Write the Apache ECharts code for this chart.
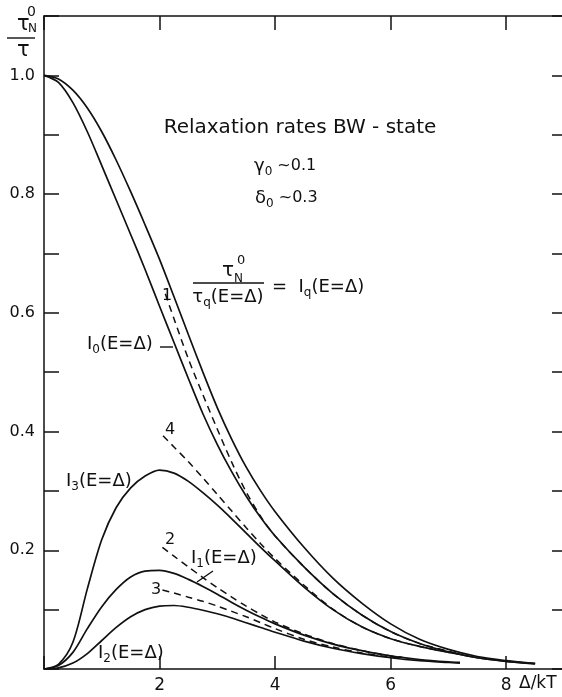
<!DOCTYPE html>
<html>
<head>
<meta charset="utf-8">
<script src="https://cdn.jsdelivr.net/npm/echarts@6/dist/echarts.min.js"></script>
<style>
  html, body { margin: 0; padding: 0; background: #fff; }
  #chart { width: 562px; height: 697px; }
</style>
</head>
<body>
<div id="chart"></div>
<script>
// curve values (x = Δ/kT, y = τN0/τ)
const upperX = [0, 0.25, 0.5, 0.75, 1, 1.25, 1.5, 1.75, 2, 2.25, 2.5, 2.75, 3, 3.25, 3.5, 3.75, 4, 4.5, 5, 5.5, 6, 6.5, 7, 7.5, 8, 8.5];
const outerY = [1.0, 0.994, 0.975, 0.945, 0.905, 0.857, 0.804, 0.748, 0.690, 0.627, 0.563, 0.500, 0.440, 0.387, 0.340, 0.300, 0.265, 0.205, 0.153, 0.111, 0.076, 0.050, 0.033, 0.021, 0.014, 0.009];
const i0Y    = [1.0, 0.988, 0.954, 0.905, 0.848, 0.790, 0.732, 0.673, 0.611, 0.550, 0.489, 0.430, 0.378, 0.332, 0.291, 0.255, 0.224, 0.172, 0.127, 0.091, 0.063, 0.043, 0.029, 0.019, 0.013, 0.009];
const i3Y    = [0, 0.008, 0.045, 0.135, 0.218, 0.272, 0.305, 0.325, 0.335, 0.330, 0.316, 0.297, 0.276, 0.253, 0.229, 0.205, 0.182, 0.138, 0.100, 0.071, 0.051, 0.038, 0.028, 0.019, 0.013, 0.009];

const d1X = [2.1, 2.25, 2.5, 2.75, 3, 3.25, 3.5, 3.75, 4, 4.5, 5, 5.5, 6, 6.5, 7.2];
const d1Y = [0.632, 0.590, 0.522, 0.462, 0.404, 0.348, 0.298, 0.257, 0.224, 0.172, 0.127, 0.091, 0.063, 0.043, 0.025];

const d4X = [2.06, 2.25, 2.5, 2.75, 3, 3.25, 3.5, 3.75, 4, 4.5, 5, 5.5, 6, 6.5, 7.2];
const d4Y = [0.393, 0.374, 0.349, 0.322, 0.294, 0.266, 0.238, 0.211, 0.186, 0.141, 0.101, 0.071, 0.051, 0.038, 0.025];

const lowerX = [0, 0.25, 0.5, 0.75, 1, 1.25, 1.5, 1.75, 2, 2.25, 2.5, 2.75, 3, 3.25, 3.5, 3.75, 4, 4.5, 5, 5.5, 6, 6.5, 7, 7.2];
const i1Y    = [0, 0.006, 0.028, 0.068, 0.105, 0.134, 0.155, 0.165, 0.166, 0.161, 0.151, 0.139, 0.126, 0.112, 0.099, 0.087, 0.076, 0.057, 0.042, 0.031, 0.022, 0.016, 0.012, 0.011];
const i2Y    = [0, 0.002, 0.010, 0.026, 0.048, 0.070, 0.088, 0.100, 0.106, 0.107, 0.104, 0.099, 0.093, 0.086, 0.078, 0.070, 0.062, 0.047, 0.035, 0.026, 0.019, 0.014, 0.011, 0.010];

const d2X = [2.05, 2.25, 2.5, 2.75, 3, 3.25, 3.5, 3.75, 4, 4.5, 5, 5.5, 6, 6.2];
const d2Y = [0.205, 0.190, 0.172, 0.154, 0.137, 0.121, 0.106, 0.092, 0.079, 0.059, 0.043, 0.031, 0.022, 0.020];

const d3X = [2.05, 2.25, 2.5, 2.75, 3, 3.25, 3.5, 3.75, 4, 4.5, 5, 5.5, 6, 6.2];
const d3Y = [0.133, 0.128, 0.121, 0.114, 0.106, 0.097, 0.088, 0.078, 0.068, 0.050, 0.037, 0.027, 0.020, 0.018];

const xTicks = [2, 4, 6, 8];
const yTickLabels = ['0.2', '0.4', '0.6', '0.8', '1.0'];

const INK = '#111';
const FONT = 'DejaVu Sans';

function pairs(xs, ys) {
  return xs.map((x, i) => [x, ys[i]]);
}

function curve(name, xs, ys, dashed) {
  return {
    name: name,
    type: 'line',
    data: pairs(xs, ys),
    showSymbol: false,
    smooth: 0.3,
    silent: true,
    lineStyle: {
      color: INK,
      width: dashed ? 1.5 : 1.7,
      type: dashed ? [7, 5] : 'solid'
    }
  };
}

const rich = {
  m: { fontSize: 18, fontFamily: FONT, color: INK, lineHeight: 24 },
  n: { fontSize: 16, fontFamily: FONT, color: INK, lineHeight: 24 },
  s: { fontSize: 12, fontFamily: FONT, color: INK, lineHeight: 12, verticalAlign: 'bottom' }
};

function txt(x, y, text, size, align) {
  return {
    type: 'text', x: x, y: y, silent: true,
    style: {
      text: text, fill: INK, fontSize: size || 18, fontFamily: FONT,
      align: align || 'left', verticalAlign: 'middle', rich: rich
    }
  };
}

function seg(x1, y1, x2, y2) {
  return {
    type: 'line', silent: true,
    shape: { x1: x1, y1: y1, x2: x2, y2: y2 },
    style: { stroke: INK, lineWidth: 1.4 }
  };
}

const chart = echarts.init(document.getElementById('chart'), null, { renderer: 'canvas' });

const axisLine = { show: true, onZero: false, lineStyle: { color: INK, width: 1.5 } };

chart.setOption({
  animation: false,
  backgroundColor: '#fff',
  // plot box runs a little past the right edge of the page, as in the scan
  grid: {
    left: 44, top: 16, width: 520, height: 653,
    containLabel: false, outerBoundsMode: 'none'
  },
  xAxis: [
    {
      type: 'value', position: 'bottom', min: 0, max: 9, interval: 2,
      axisLine: axisLine,
      axisTick: { inside: true, length: 13, lineStyle: { color: INK, width: 1.5 } },
      axisLabel: {
        color: INK, fontSize: 17, fontFamily: FONT, margin: 8,
        formatter: v => (xTicks.indexOf(v) >= 0 ? String(v) : '')
      },
      splitLine: { show: false }
    },
    {
      type: 'value', position: 'top', min: 0, max: 9, interval: 2,
      axisLine: axisLine,
      axisTick: { inside: true, length: 14, lineStyle: { color: INK, width: 1.5 } },
      axisLabel: { show: false },
      splitLine: { show: false }
    }
  ],
  yAxis: [
    {
      type: 'value', position: 'left', min: 0, max: 1.1, interval: 0.1,
      axisLine: axisLine,
      axisTick: { inside: true, length: 15, lineStyle: { color: INK, width: 1.5 } },
      axisLabel: {
        color: INK, fontSize: 16, fontFamily: FONT, margin: 9,
        formatter: v => {
          const s = v.toFixed(1);
          return yTickLabels.indexOf(s) >= 0 ? s : '';
        }
      },
      splitLine: { show: false }
    },
    {
      type: 'value', position: 'right', min: 0, max: 1.1, interval: 0.1,
      axisLine: axisLine,
      axisTick: { inside: true, length: 12, lineStyle: { color: INK, width: 1.5 } },
      axisLabel: { show: false },
      splitLine: { show: false }
    }
  ],
  series: [
    curve('outer', upperX, outerY, false),
    curve('I0', upperX, i0Y, false),
    curve('1', d1X, d1Y, true),
    curve('I3', upperX, i3Y, false),
    curve('4', d4X, d4Y, true),
    curve('I1', lowerX, i1Y, false),
    curve('2', d2X, d2Y, true),
    curve('I2', lowerX, i2Y, false),
    curve('3', d3X, d3Y, true)
  ],
  graphic: [
    // y axis name  τN0 / τ
    txt(17, 25, 'τ', 21),
    txt(28, 29, 'N', 12),
    txt(27, 12, '0', 14),
    seg(7, 38, 35, 38),
    txt(17, 51, 'τ', 21),
    // x axis name
    txt(519, 684, 'Δ/kT', 17),
    // title block
    txt(300, 128, 'Relaxation rates BW - state', 20, 'center'),
    txt(254, 166, '{m|γ}{s|0}{n| ~0.1}', 18),
    txt(255, 198, '{m|δ}{s|0}{n| ~0.3}', 18),
    // formula
    txt(222, 271, 'τ', 20),
    txt(234, 279, 'N', 12),
    txt(237, 261, '0', 13),
    seg(193, 283, 264, 283),
    txt(228, 297, '{m|τ}{s|q}{m|(E=Δ)}', 18, 'center'),
    txt(272, 287, '{m|=  I}{s|q}{m|(E=Δ)}', 18),
    // curve labels
    txt(87, 344, '{m|I}{s|0}{m|(E=Δ)}', 18),
    seg(160, 347, 173, 347),
    txt(66, 481, '{m|I}{s|3}{m|(E=Δ)}', 18),
    txt(191, 558, '{m|I}{s|1}{m|(E=Δ)}', 18),
    seg(197, 582, 213, 571),
    txt(98, 653, '{m|I}{s|2}{m|(E=Δ)}', 18),
    txt(162, 296, '1', 16),
    txt(165, 430, '4', 16),
    txt(165, 540, '2', 16),
    txt(151, 590, '3', 16)
  ]
});
</script>
</body>
</html>
